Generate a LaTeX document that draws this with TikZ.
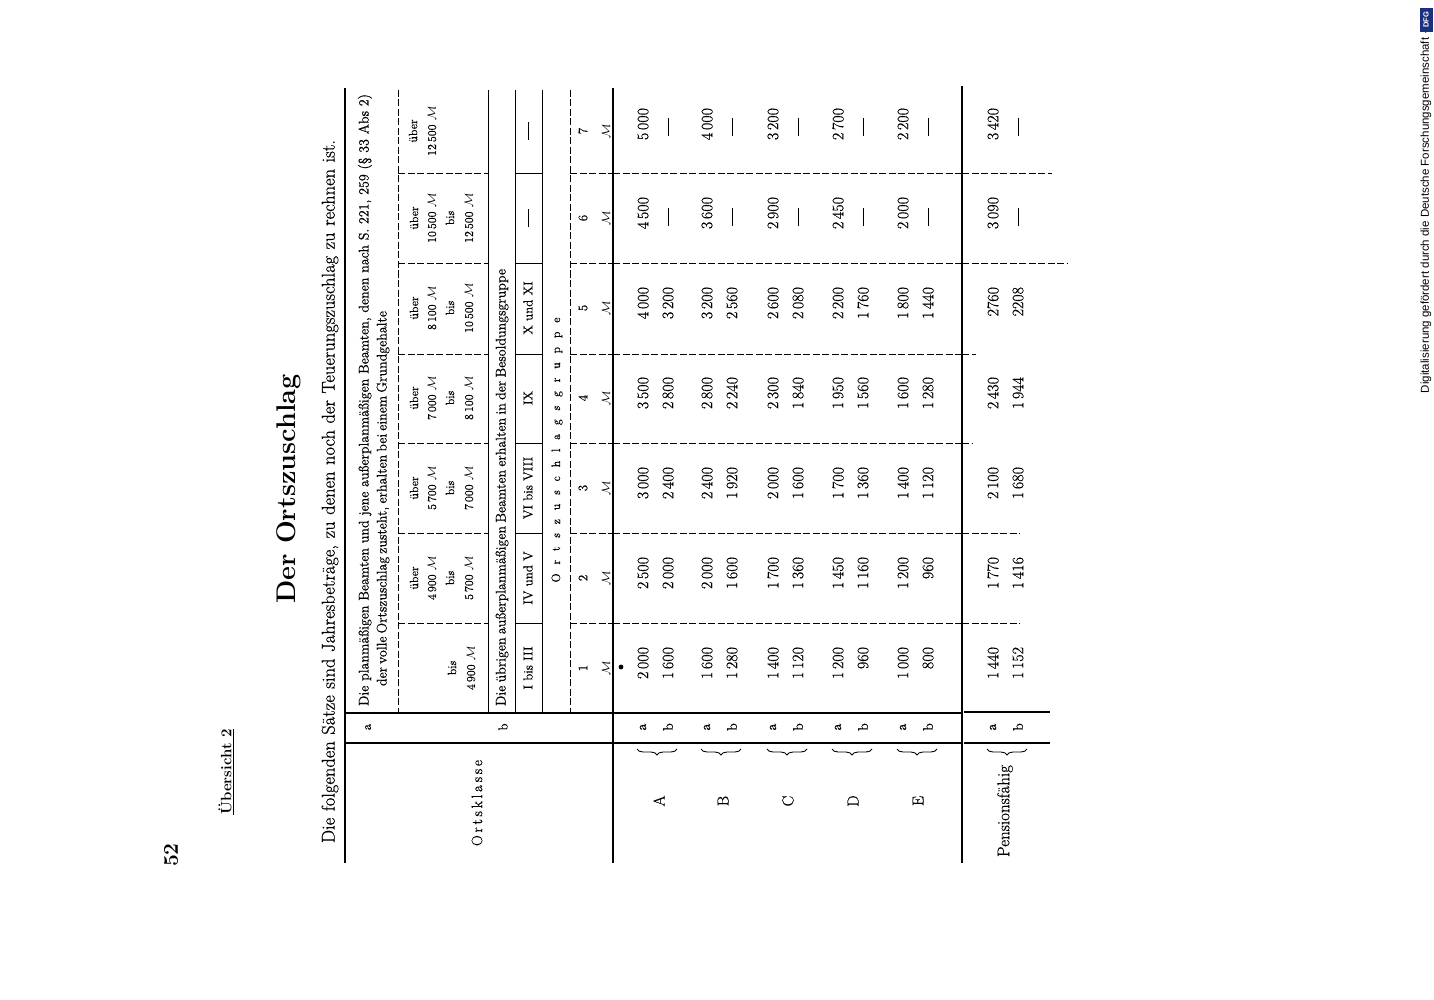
\documentclass[tikz,border=0pt]{standalone}
\usepackage{fontspec}
\newfontfamily\dfgfont{Liberation Sans}
\newfontfamily\dk{Latin Modern Roman}[FakeBold=0.6,Ligatures=TeX]
\usetikzlibrary{decorations.pathreplacing}
\definecolor{dfgblue}{RGB}{28,48,128}
\newcommand\fs[1]{\fontsize{#1}{#1}\selectfont}
\newcommand\mk{$\mathcal{M}$}
\newcommand\nildash{\rule{18pt}{0.95pt}}
\newcommand\arow[9]{%
  \node[numa] (#1c1) at (#2,647) {#3};
  \node[numa] (#1c2) at (#2,557) {#4};
  \node[numa] (#1c3) at (#2,467) {#5};
  \node[numa] (#1c4) at (#2,377) {#6};
  \node[numa] (#1c5) at (#2,287) {#7};
  \node[numa] (#1c6) at (#2,197) {#8};
  \node[numa] (#1c7) at (#2,108) {#9};}
\newcommand\brow[7]{%
  \node[numa] (#1c1) at (#2,647) {#3};
  \node[numa] (#1c2) at (#2,557) {#4};
  \node[numa] (#1c3) at (#2,467) {#5};
  \node[numa] (#1c4) at (#2,377) {#6};
  \node[numa] (#1c5) at (#2,287) {#7};
  \node[dsh] (#1c6) at (#2,217) {\nildash};
  \node[dsh] (#1c7) at (#2,127) {\nildash};}
\newcommand\hcell[4]{%
  \node[hsmall] (#1u) at (414,#2) {über};
  \node[hsmall] (#1f) at (432,#2) {#3};
  \node[hsmall] (#1b) at (450,#2) {bis};
  \node[hsmall] (#1t) at (469,#2) {#4};}
\begin{document}
\begin{tikzpicture}[x=1pt,y=-1pt,
  rot/.style={rotate=90,inner sep=0pt,outer sep=0pt},
  numa/.style={rot,anchor=east,font=\dk\fs{16}},
  dsh/.style={rot,font=\dk\fs{16}},
  hsmall/.style={rot,font=\dk\fs{12}},
  hmid/.style={rot,font=\dk\fs{13}},
  heavy/.style={line width=2.6pt},
  thinrule/.style={line width=0.7pt},
  dashrule/.style={line width=0.6pt,dash pattern=on 7pt off 2.5pt},
  bracedeco/.style={decorate,decoration={brace,amplitude=6pt},line width=0.9pt}
]
\useasboundingbox (0,0) rectangle (1434,1000);
\fill[white] (0,0) rectangle (1434,1000);

% page head
\node[rot,font=\fs{21}\bfseries] (pageno) at (171,855) {52};
\node[rot,font=\fs{15}\bfseries] (uebersicht) at (226,772) {\underline{Übersicht 2}};
\node[rot,font=\fs{27}\bfseries] (title) at (289,489) {Der Ortszuschlag};
\node[rot,anchor=west,font=\dk\fs{18.5}] (subtitle) at (330,843) {\makebox[703pt][s]{Die folgenden Sätze sind Jahresbeträge, zu denen noch der Teuerungszuschlag zu rechnen ist.}};

% heavy rules
\draw[heavy] (345,88) -- (345,863);
\draw[heavy] (613,88) -- (613,863);
\draw[heavy] (962,86) -- (962,863);
\draw[heavy] (345,713) -- (962,713);
\draw[heavy] (345,743) -- (962,743);
\draw[heavy] (964,712) -- (1050,712);
\draw[heavy] (964,743) -- (1050,743);

% header inner rules
\draw[dashrule] (398,90) -- (398,713);
\draw[thinrule] (488,90) -- (488,713);
\draw[thinrule] (515,90) -- (515,713);
\draw[thinrule] (542,90) -- (542,713);
\draw[dashrule] (570,90) -- (570,713);
\foreach \yy in {173,263,354,443,533,623}{
  \draw[dashrule] (398,\yy) -- (488,\yy);
  \draw[thinrule] (515,\yy) -- (542,\yy);
  \draw[dashrule] (570,\yy) -- (613,\yy);
  \draw[dashrule] (613,\yy) -- (962,\yy);
}
% faint continuations in the last block
\draw[dashrule] (962,173) -- (1052,173);
\draw[dashrule] (962,263) -- (1068,263);
\draw[dashrule] (962,354) -- (976,354);
\draw[dashrule] (962,443) -- (972,443);
\draw[dashrule] (962,533) -- (1020,533);
\draw[dashrule] (962,623) -- (1020,623);

% header texts: a
\node[hmid] (la) at (368,727) {a};
\node[hmid] (lb) at (503,727) {b};
\node[rot,anchor=west,font=\dk\fs{14}] (atext1) at (365,706) {\makebox[612pt][s]{Die planmäßigen Beamten und jene außerplanmäßigen Beamten, denen nach S. 221, 259 (§ 33 Abs 2)}};
\node[rot,anchor=west,font=\dk\fs{14}] (atext2) at (383,686) {\makebox[313pt][s]{der volle Ortszuschlag zusteht, erhalten bei einem Grundgehalte}};
\node[hsmall] (h1b) at (452,668) {bis};
\node[hsmall] (h1t) at (471,668) {4\,900 \mk};
\hcell{h2}{578}{4\,900 \mk}{5\,700 \mk}
\hcell{h3}{488}{5\,700 \mk}{7\,000 \mk}
\hcell{h4}{398}{7\,000 \mk}{8\,100 \mk}
\hcell{h5}{308}{8\,100 \mk}{10\,500 \mk}
\hcell{h6}{218}{10\,500 \mk}{12\,500 \mk}
\node[hsmall] (h7u) at (413,131) {über};
\node[hsmall] (h7f) at (432,131) {12\,500 \mk};

% header texts: b
\node[rot,anchor=west,font=\dk\fs{14}] (btext) at (502,706) {\makebox[437pt][s]{Die übrigen außerplanmäßigen Beamten erhalten in der Besoldungsgruppe}};
\node[hmid] (g1) at (528,668) {I bis III};
\node[hmid] (g2) at (528,578) {IV und V};
\node[hmid] (g3) at (528,488) {VI bis VIII};
\node[hmid] (g4) at (528,398) {IX};
\node[hmid] (g5) at (528,308) {X und XI};
\node[hmid] (g6) at (528,218) {\nildash};
\node[hmid] (g7) at (528,131) {\nildash};
\node[rot,font=\dk\fs{12}] (ozg) at (557,450) {\makebox[265pt]{O\hfill r\hfill t\hfill s\hfill z\hfill u\hfill s\hfill c\hfill h\hfill l\hfill a\hfill g\hfill s\hfill g\hfill r\hfill u\hfill p\hfill p\hfill e}};
\foreach \n/\yy in {1/668,2/578,3/488,4/398,5/308,6/218,7/131}{
  \node[hmid] (num\n) at (583,\yy) {\n};
  \node[hmid] (mk\n) at (606,\yy) {\mk};
}
\node[rot,font=\dk\fs{15}] (ortsklasse) at (477,803) {\makebox[86pt]{O\hfill r\hfill t\hfill s\hfill k\hfill l\hfill a\hfill s\hfill s\hfill e}};
\fill (621,667) circle (2.4pt);

% data
\arow{Aa}{643}{2\,000}{2\,500}{3\,000}{3\,500}{4\,000}{4\,500}{5\,000}
\brow{Ab}{668}{1\,600}{2\,000}{2\,400}{2\,800}{3\,200}
\arow{Ba}{707}{1\,600}{2\,000}{2\,400}{2\,800}{3\,200}{3\,600}{4\,000}
\brow{Bb}{732}{1\,280}{1\,600}{1\,920}{2\,240}{2\,560}
\arow{Ca}{773}{1\,400}{1\,700}{2\,000}{2\,300}{2\,600}{2\,900}{3\,200}
\brow{Cb}{798}{1\,120}{1\,360}{1\,600}{1\,840}{2\,080}
\arow{Da}{838}{1\,200}{1\,450}{1\,700}{1\,950}{2\,200}{2\,450}{2\,700}
\brow{Db}{863}{960}{1\,160}{1\,360}{1\,560}{1\,760}
\arow{Ea}{903}{1\,000}{1\,200}{1\,400}{1\,600}{1\,800}{2\,000}{2\,200}
\brow{Eb}{928}{800}{960}{1\,120}{1\,280}{1\,440}
\arow{Pa}{993}{1\,440}{1\,770}{2\,100}{2\,430}{2760}{3\,090}{3\,420}
\brow{Pb}{1018}{1\,152}{1\,416}{1\,680}{1\,944}{2208}

% row labels
\foreach \nm/\xa/\xb/\lab/\xl in {A/643/668/A/659,B/707/732/B/723,C/773/798/C/788,D/838/863/D/853,E/903/928/E/918}{
  \node[rot,font=\dk\fs{14}] (\nm la) at (\xa,727) {a};
  \node[rot,font=\dk\fs{14}] (\nm lb) at (\xb,727) {b};
  \draw[bracedeco] ({\xb+9},749) -- ({\xa-6},749);
  \node[rot,font=\dk\fs{16}] (\nm lab) at (\xl,801) {\lab};
}
\node[rot,font=\dk\fs{14}] (Pla) at (993,727) {a};
\node[rot,font=\dk\fs{14}] (Plb) at (1018,727) {b};
\draw[bracedeco] (1027,749) -- (987,749);
\node[rot,font=\dk\fs{17}] (pens) at (1005,811) {Pensionsfähig};

% footer
\node[rot,anchor=west,font=\dfgfont\fs{11.5}] (dfgtext) at (1426,393) {Digitalisierung gefördert durch die Deutsche Forschungsgemeinschaft ·};
\node[rot,fill=dfgblue,text=white,font=\dfgfont\bfseries\fs{7.5},minimum width=24pt,minimum height=13pt] (dfglogo) at (1426,20) {DFG};
\end{tikzpicture}
\end{document}
